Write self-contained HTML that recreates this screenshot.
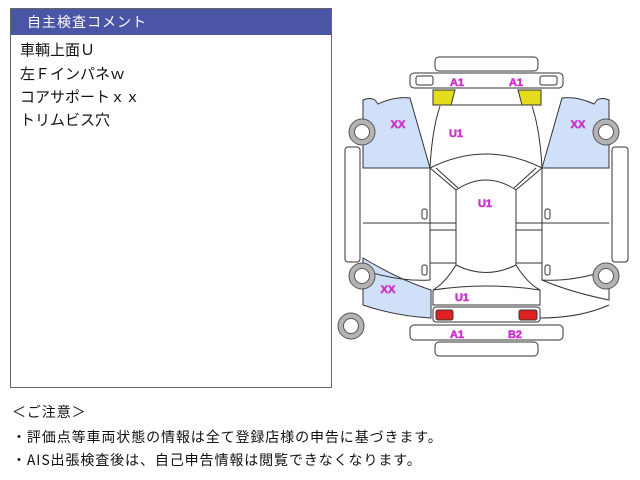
<!DOCTYPE html>
<html><head><meta charset="utf-8"><style>
body{margin:0;width:640px;height:480px;background:#fff;position:relative;overflow:hidden;font-family:"Liberation Sans","Noto Sans CJK JP",sans-serif;}
.box{position:absolute;left:10px;top:8px;width:322px;height:380px;border:1px solid #666;box-sizing:border-box;}
.hd{position:absolute;left:0;top:0;right:0;height:26px;background:#4a56a5;color:#fff;font-size:14px;line-height:26px;padding-left:16px;letter-spacing:1px;}
.ln{position:absolute;left:9px;font-size:15px;color:#111;}
.nt{position:absolute;left:12px;font-size:14px;color:#111;letter-spacing:0.9px;font-family:"Noto Sans CJK JP",sans-serif;}
</style></head><body>
<div class="box"><div class="hd">自主検査コメント</div>
<div class="ln" style="top:30px">車輌上面Ｕ</div>
<div class="ln" style="top:54px">左Ｆインパネｗ</div>
<div class="ln" style="top:77px">コアサポートｘｘ</div>
<div class="ln" style="top:100px">トリムビス穴</div>
</div>
<div class="nt" style="top:402px">＜ご注意＞</div>
<div class="nt" style="top:427px">・評価点等車両状態の情報は全て登録店様の申告に基づきます。</div>
<div class="nt" style="top:450px">・AIS出張検査後は、自己申告情報は閲覧できなくなります。</div>
<svg style="position:absolute;left:0;top:0" width="640" height="480" fill="none" stroke="#333" stroke-width="1">
<g fill="#cfe0f8" stroke="#333">
<path d="M363 100 Q370 97 375 100 L378 104 Q395 96 410 98 L430 168 L363 168 Z"/>
<path d="M609 100 Q602 97 597 100 L594 104 Q577 96 562 98 L542 168 L609 168 Z"/>
<path d="M363 258 Q400 280 431 290 L431 318 Q395 316 363 305 Z"/>
</g>
<g fill="#fff">
<rect x="435" y="57" width="103" height="14" rx="4"/>
<rect x="410" y="73" width="153" height="15" rx="4"/>
<rect x="416" y="76" width="17" height="9" rx="2"/>
<rect x="540" y="76" width="17" height="9" rx="2"/>
<rect x="345" y="147" width="15" height="115" rx="3"/>
<rect x="612" y="147" width="16" height="115" rx="3"/>
<rect x="410" y="325" width="153" height="15" rx="4"/>
<rect x="435" y="342" width="103" height="14" rx="4"/>
<rect x="433" y="307" width="107" height="15" rx="3"/>
</g>
<path d="M433 90 L455 90 L451 105 L433 105 Z" fill="#e6dc1e"/>
<path d="M541 90 L518 90 L522 105 L541 105 Z" fill="#e6dc1e"/>
<line x1="451" y1="105" x2="522" y2="105"/>
<path d="M440 106 Q432 130 430 168 M532 106 Q540 130 542 168"/>
<path d="M430 168 Q486 140 542 168"/>
<path d="M430 168 L456 190 M542 168 L516 190 M436 168 L458 188 M536 168 L514 188"/>
<path d="M456 190 Q486 170 516 190 L516 265 Q486 280 456 265 Z"/>
<path d="M363 168 L430 168 L430 280 Q400 282 363 270 M609 168 L542 168 L542 280 Q572 282 609 270"/>
<path d="M363 223 L456 223 M516 223 L609 223 M430 230 L456 230 M516 230 L542 230 M430 263 L456 263 M516 263 L542 263"/>
<path d="M456 265 Q445 283 433 290 M516 265 Q527 283 540 290 M433 290 Q486 282 540 290"/>
<path d="M433 290 L433 305 L540 305 L540 290"/>
<path d="M542 280 Q570 292 609 300 L609 270 M540 318 Q580 318 609 305"/>
<rect x="422" y="209" width="5" height="10" rx="2"/><rect x="545" y="209" width="5" height="10" rx="2"/>
<rect x="422" y="265" width="5" height="10" rx="2"/><rect x="545" y="265" width="5" height="10" rx="2"/>
<rect x="436" y="310" width="17" height="10" rx="2" fill="#e02020"/>
<rect x="519" y="310" width="18" height="10" rx="2" fill="#e02020"/>
<g stroke="#555" stroke-width="1">
<g fill="#b4b4b4"><circle cx="362" cy="132" r="13"/><circle cx="606" cy="132" r="13"/><circle cx="362" cy="276" r="13"/><circle cx="606" cy="276" r="13"/><circle cx="351" cy="326" r="13"/></g>
<g fill="#fff"><circle cx="362" cy="132" r="7.5"/><circle cx="606" cy="132" r="7.5"/><circle cx="362" cy="276" r="7.5"/><circle cx="606" cy="276" r="7.5"/><circle cx="351" cy="326" r="7.5"/></g>
</g>
<g fill="#cc33cc" stroke="#cc33cc" stroke-width="0.6" font-family="Liberation Sans" font-weight="bold" font-size="11" text-anchor="middle">
<text x="457" y="86">A1</text><text x="516" y="86">A1</text>
<text x="398" y="128">XX</text><text x="578" y="128">XX</text><text x="388" y="293">XX</text>
<text x="456" y="137">U1</text><text x="485" y="207">U1</text><text x="462" y="301">U1</text>
<text x="457" y="338">A1</text><text x="515" y="338">B2</text>
</g>
</svg>
</body></html>
